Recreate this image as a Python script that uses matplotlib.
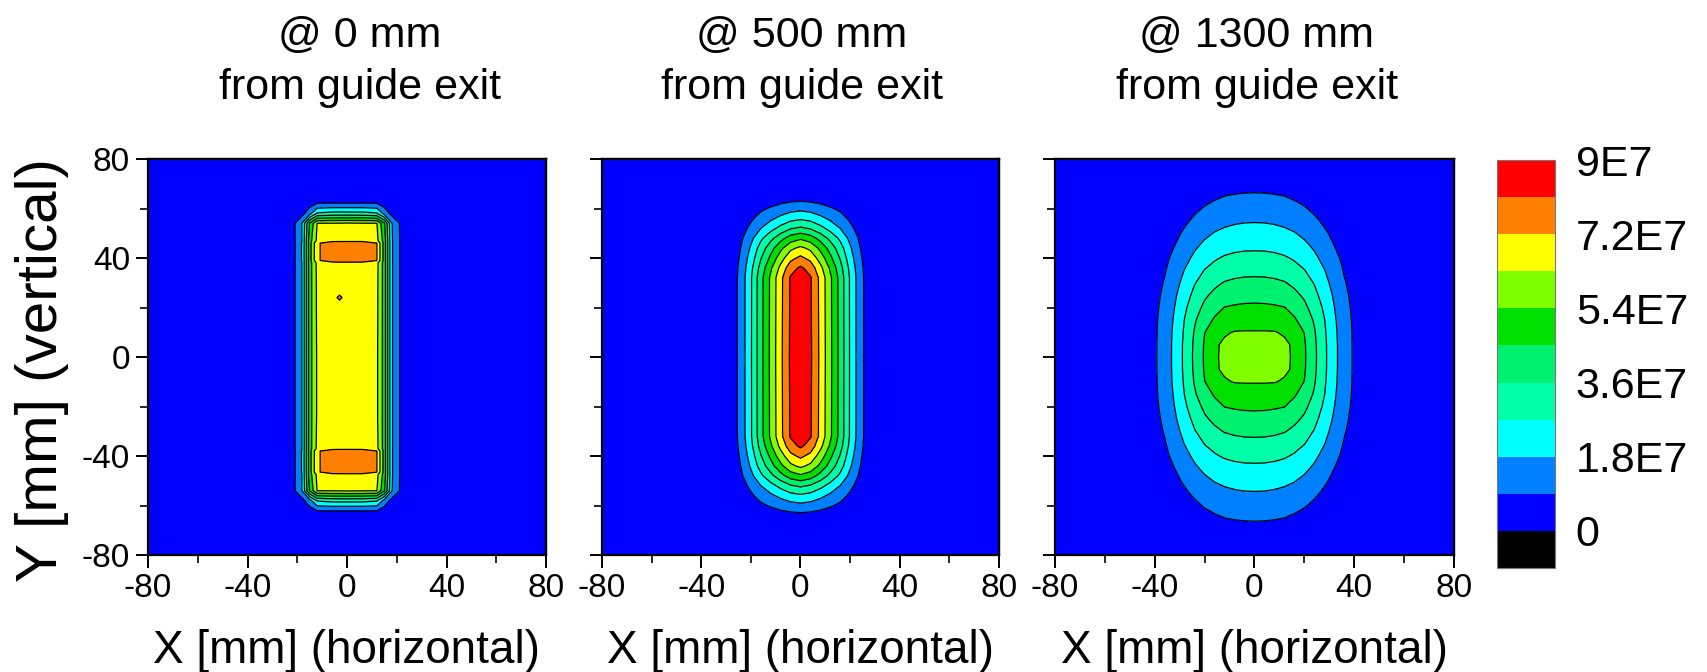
import numpy as np
import matplotlib
matplotlib.use('Agg')
import matplotlib.pyplot as plt
from matplotlib.ticker import MultipleLocator

plt.rcParams['font.family'] = ['Liberation Sans', 'DejaVu Sans']
plt.rcParams['axes.unicode_minus'] = False

# ---------------- texts ----------------
titles_top = ['@ 0 mm', '@ 500 mm', '@ 1300 mm']
title_bottom = 'from guide exit'
xlabel_text = 'X [mm] (horizontal)'
ylabel_text = 'Y [mm] (vertical)'

# ---------------- colour scale ----------------
levels = [-0.9e7, 0, 0.9e7, 1.8e7, 2.7e7, 3.6e7, 4.5e7, 5.4e7, 6.3e7, 7.2e7, 8.1e7, 9.0e7]
band_colors = ['#000000', '#0000FF', '#0080FF', '#00FFFF', '#00FFA8', '#00F070',
               '#00E000', '#80FF00', '#FFFF00', '#FF8000', '#FF0000']
cbar_ticks = [0, 1.8e7, 3.6e7, 5.4e7, 7.2e7, 9.0e7]
cbar_labels = ['0', '1.8E7', '3.6E7', '5.4E7', '7.2E7', '9E7']
value_unit = 1e7

# ---------------- panel 1 : @ 0 mm (full grid, values in 1E7) ----------------
p1_x = [-80, -24, -21, -18, -15, -12, -6, -3, 0, 6, 12, 15, 18, 21, 24, 80]
p1_y = [-80, -66, -62, -58, -54, -47.5, -46.5, -38, -37, -24, 0, 21, 24, 27,
        38, 39, 46, 47, 54, 58, 62, 66, 80]
p1_z = [
    [0.1, 0.1, 0.1, 0.1, 0.1, 0.1, 0.1, 0.1, 0.1, 0.1, 0.1, 0.1, 0.1, 0.1, 0.1, 0.1],
    [0.1, 0.1, 0.1, 0.1, 0.1, 0.1, 0.1, 0.1, 0.1, 0.1, 0.1, 0.1, 0.1, 0.1, 0.1, 0.1],
    [0.1, 0.1, 0.1, 0.2, 0.5, 0.92, 0.93, 0.93, 0.93, 0.93, 0.92, 0.5, 0.2, 0.1, 0.1, 0.1],
    [0.1, 0.1, 0.3, 0.6, 1.5, 2.8, 3.0, 3.0, 3.0, 3.0, 2.8, 1.5, 0.6, 0.3, 0.1, 0.1],
    [0.1, 0.1, 0.85, 1.85, 4.6, 6.32, 6.35, 6.35, 6.4, 6.35, 6.33, 4.6, 1.85, 0.92, 0.1, 0.1],
    [0.1, 0.1, 0.85, 1.85, 5.0, 6.5, 6.95, 7.0, 7.0, 7.0, 6.55, 5.0, 1.9, 0.95, 0.1, 0.1],
    [0.1, 0.1, 0.85, 1.9, 5.0, 7.1, 7.6, 7.6, 7.6, 7.6, 7.22, 5.0, 1.9, 0.95, 0.1, 0.1],
    [0.1, 0.1, 0.85, 1.9, 5.0, 7.1, 7.6, 7.6, 7.6, 7.6, 7.22, 5.0, 1.9, 0.95, 0.1, 0.1],
    [0.1, 0.1, 0.85, 1.85, 5.0, 6.5, 6.95, 7.0, 7.0, 7.0, 6.55, 5.0, 1.9, 0.95, 0.1, 0.1],
    [0.1, 0.1, 0.85, 1.85, 5.0, 6.4, 6.75, 6.75, 6.8, 6.75, 6.45, 5.0, 1.9, 0.95, 0.1, 0.1],
    [0.1, 0.1, 0.85, 1.85, 5.0, 6.4, 6.7, 6.75, 6.8, 6.75, 6.45, 5.0, 1.9, 0.95, 0.1, 0.1],
    [0.1, 0.1, 0.85, 1.85, 5.0, 6.45, 6.8, 6.8, 6.8, 6.8, 6.5, 5.0, 1.9, 0.95, 0.1, 0.1],
    [0.1, 0.1, 0.85, 1.85, 5.0, 6.45, 6.8, 7.4, 6.8, 6.8, 6.5, 5.0, 1.9, 0.95, 0.1, 0.1],
    [0.1, 0.1, 0.85, 1.85, 5.0, 6.45, 6.8, 6.8, 6.8, 6.8, 6.5, 5.0, 1.9, 0.95, 0.1, 0.1],
    [0.1, 0.1, 0.85, 1.85, 5.0, 6.5, 6.95, 7.0, 7.0, 7.0, 6.55, 5.0, 1.9, 0.95, 0.1, 0.1],
    [0.1, 0.1, 0.85, 1.9, 5.0, 7.1, 7.6, 7.6, 7.6, 7.6, 7.22, 5.0, 1.9, 0.95, 0.1, 0.1],
    [0.1, 0.1, 0.85, 1.9, 5.0, 7.1, 7.6, 7.6, 7.6, 7.6, 7.22, 5.0, 1.9, 0.95, 0.1, 0.1],
    [0.1, 0.1, 0.85, 1.85, 5.0, 6.5, 6.95, 7.0, 7.0, 7.0, 6.55, 5.0, 1.9, 0.95, 0.1, 0.1],
    [0.1, 0.1, 0.85, 1.85, 4.6, 6.32, 6.35, 6.35, 6.4, 6.35, 6.33, 4.6, 1.85, 0.92, 0.1, 0.1],
    [0.1, 0.1, 0.3, 0.6, 1.5, 2.8, 3.0, 3.0, 3.0, 3.0, 2.8, 1.5, 0.6, 0.3, 0.1, 0.1],
    [0.1, 0.1, 0.1, 0.2, 0.5, 0.92, 0.93, 0.93, 0.93, 0.93, 0.92, 0.5, 0.2, 0.1, 0.1, 0.1],
    [0.1, 0.1, 0.1, 0.1, 0.1, 0.1, 0.1, 0.1, 0.1, 0.1, 0.1, 0.1, 0.1, 0.1, 0.1, 0.1],
    [0.1, 0.1, 0.1, 0.1, 0.1, 0.1, 0.1, 0.1, 0.1, 0.1, 0.1, 0.1, 0.1, 0.1, 0.1, 0.1],
]

# ---------------- panel 2 : @ 500 mm (quadrant x>=0, y>=0, values in 1E7) ----------------
p2_xq = [0, 4, 8, 12, 16, 20, 24, 28, 80]
p2_yq = [0, 32, 36, 40, 44, 48, 52, 56, 60, 64, 68, 80]
p2_zq = [
    [8.8, 8.25, 7.0, 5.6, 4.2, 2.6, 1.25, 0.3, 0.1],
    [8.75, 8.2, 6.96, 5.57, 4.18, 2.59, 1.24, 0.3, 0.1],
    [8.25, 7.73, 6.56, 5.25, 3.94, 2.44, 1.17, 0.28, 0.09],
    [7.4, 6.94, 5.89, 4.71, 3.53, 2.19, 1.05, 0.25, 0.08],
    [6.5, 6.09, 5.17, 4.14, 3.1, 1.92, 0.92, 0.22, 0.07],
    [5.25, 4.92, 4.18, 3.34, 2.51, 1.55, 0.75, 0.18, 0.06],
    [3.75, 3.52, 2.98, 2.39, 1.79, 1.11, 0.53, 0.13, 0.04],
    [2.55, 2.39, 2.03, 1.62, 1.22, 0.75, 0.36, 0.09, 0.03],
    [1.55, 1.45, 1.23, 0.99, 0.74, 0.46, 0.22, 0.05, 0.02],
    [0.65, 0.61, 0.52, 0.41, 0.31, 0.19, 0.09, 0.02, 0.01],
    [0.1, 0.09, 0.08, 0.06, 0.05, 0.03, 0.02, 0.01, 0.01],
    [0.05, 0.05, 0.04, 0.03, 0.03, 0.02, 0.01, 0.01, 0.01],
]

# ---------------- panel 3 : @ 1300 mm (quadrant x>=0, y>=0, values in 1E7) ----------------
p3_xq = [0, 4, 8, 12, 16, 20, 24, 28, 32, 36, 40, 44, 50, 80]
p3_yq = [0, 5, 10, 15, 20, 25, 30, 35, 40, 45, 50, 55, 60, 65, 70, 75, 80]
p3_zq = [
    [5.90, 5.76, 5.63, 5.55, 5.30, 4.61, 3.80, 2.90, 2.03, 1.31, 0.79, 0.49, 0.25, 0.06],
    [5.68, 5.67, 5.60, 5.54, 5.28, 4.59, 3.77, 2.89, 2.03, 1.30, 0.79, 0.49, 0.25, 0.06],
    [5.46, 5.46, 5.44, 5.31, 4.90, 4.48, 3.68, 2.83, 1.99, 1.28, 0.78, 0.48, 0.25, 0.06],
    [4.96, 4.95, 4.91, 4.79, 4.60, 4.14, 3.50, 2.73, 1.92, 1.24, 0.76, 0.46, 0.24, 0.06],
    [4.63, 4.62, 4.59, 4.52, 4.22, 3.80, 3.22, 2.55, 1.81, 1.17, 0.72, 0.43, 0.24, 0.06],
    [4.26, 4.25, 4.17, 4.03, 3.81, 3.46, 2.94, 2.32, 1.67, 1.07, 0.67, 0.39, 0.23, 0.06],
    [3.81, 3.80, 3.75, 3.65, 3.41, 3.06, 2.65, 2.07, 1.50, 0.96, 0.61, 0.33, 0.22, 0.06],
    [3.38, 3.37, 3.31, 3.18, 2.98, 2.73, 2.29, 1.83, 1.31, 0.84, 0.53, 0.29, 0.21, 0.06],
    [2.94, 2.93, 2.88, 2.79, 2.61, 2.32, 1.97, 1.55, 1.10, 0.72, 0.43, 0.27, 0.20, 0.06],
    [2.53, 2.52, 2.47, 2.36, 2.19, 1.97, 1.66, 1.28, 0.90, 0.58, 0.32, 0.25, 0.18, 0.05],
    [2.11, 2.10, 2.06, 1.98, 1.84, 1.62, 1.33, 1.02, 0.71, 0.43, 0.27, 0.23, 0.17, 0.05],
    [1.75, 1.74, 1.69, 1.60, 1.46, 1.27, 1.04, 0.77, 0.51, 0.29, 0.25, 0.21, 0.16, 0.05],
    [1.34, 1.33, 1.29, 1.22, 1.11, 0.96, 0.75, 0.53, 0.31, 0.26, 0.22, 0.19, 0.15, 0.05],
    [0.99, 0.98, 0.95, 0.90, 0.79, 0.65, 0.48, 0.30, 0.26, 0.23, 0.20, 0.17, 0.13, 0.05],
    [0.66, 0.65, 0.62, 0.56, 0.48, 0.36, 0.28, 0.26, 0.23, 0.20, 0.17, 0.15, 0.12, 0.05],
    [0.36, 0.35, 0.32, 0.29, 0.28, 0.26, 0.24, 0.22, 0.20, 0.18, 0.15, 0.14, 0.11, 0.05],
    [0.26, 0.26, 0.25, 0.24, 0.23, 0.22, 0.21, 0.19, 0.17, 0.15, 0.14, 0.12, 0.10, 0.05],
]


def mirror_quadrant(xq, yq, zq):
    xq = np.asarray(xq, float)
    yq = np.asarray(yq, float)
    zq = np.asarray(zq, float)
    x = np.concatenate([-xq[:0:-1], xq])
    y = np.concatenate([-yq[:0:-1], yq])
    zr = np.concatenate([zq[:, :0:-1], zq], axis=1)
    z = np.concatenate([zr[:0:-1, :], zr], axis=0)
    return x, y, z


grids = [
    (np.asarray(p1_x, float), np.asarray(p1_y, float), np.asarray(p1_z, float)),
    mirror_quadrant(p2_xq, p2_yq, p2_zq),
    mirror_quadrant(p3_xq, p3_yq, p3_zq),
]

# ---------------- layout ----------------
W, H = 1708, 672
fig = plt.figure(figsize=(W / 100, H / 100), dpi=100)
fig.patch.set_facecolor('white')

panel_px = [(148, 398), (602, 397), (1055, 399)]
top_px, bot_px = 159, 555
title_x_px = [360, 802, 1257]

tick_fs = 24
cs = None
for i, ((lpx, wpx), (gx, gy, gz)) in enumerate(zip(panel_px, grids)):
    ax = fig.add_axes([lpx / W, 1 - bot_px / H, wpx / W, (bot_px - top_px) / H])
    cs = ax.contourf(gx, gy, gz * value_unit, levels=levels, colors=band_colors)
    ax.contour(gx, gy, gz * value_unit, levels=levels[1:-1], colors='k', linewidths=0.9)
    ax.set_xlim(-80, 80)
    ax.set_ylim(-80, 80)
    for a in (ax.xaxis, ax.yaxis):
        a.set_major_locator(MultipleLocator(40))
        a.set_minor_locator(MultipleLocator(20))
    ax.tick_params(which='major', direction='out', length=9, width=1.4,
                   labelsize=tick_fs, pad=4, top=False, right=False)
    ax.tick_params(which='minor', direction='out', length=6, width=1.2,
                   top=False, right=False)
    if i > 0:
        ax.tick_params(axis='y', labelleft=False)
    for sp in ax.spines.values():
        sp.set_linewidth(1.6)
    # inward ticks on top and right
    secx = ax.secondary_xaxis('top')
    secy = ax.secondary_yaxis('right')
    for s, a in ((secx, secx.xaxis), (secy, secy.yaxis)):
        a.set_major_locator(MultipleLocator(40))
        a.set_minor_locator(MultipleLocator(20))
        s.tick_params(which='major', direction='in', length=9, width=1.4,
                      labeltop=False, labelright=False)
        s.tick_params(which='minor', direction='in', length=6, width=1.2)
        for sp in s.spines.values():
            sp.set_linewidth(1.6)

    cx = (lpx + wpx / 2) / W
    fig.text(cx, 1 - 663 / H, xlabel_text, fontsize=33, ha='center', va='baseline')
    fig.text(title_x_px[i] / W, 1 - 47 / H, titles_top[i], fontsize=31,
             ha='center', va='baseline')
    fig.text(title_x_px[i] / W, 1 - 99 / H, title_bottom, fontsize=31,
             ha='center', va='baseline')

fig.text(42 / W, 1 - 370 / H, ylabel_text, fontsize=42, rotation=90,
         ha='center', va='center')

# ---------------- colour bar ----------------
cax = fig.add_axes([1497 / W, 1 - 568 / H, 58 / W, 408 / H])
cb = fig.colorbar(cs, cax=cax, ticks=cbar_ticks)
cb.ax.set_yticklabels(cbar_labels)
cb.ax.tick_params(length=0, pad=15, labelsize=31)
cb.outline.set_linewidth(0.8)
cb.outline.set_edgecolor('#777777')

fig.savefig('out.png', dpi=100, facecolor='white')
